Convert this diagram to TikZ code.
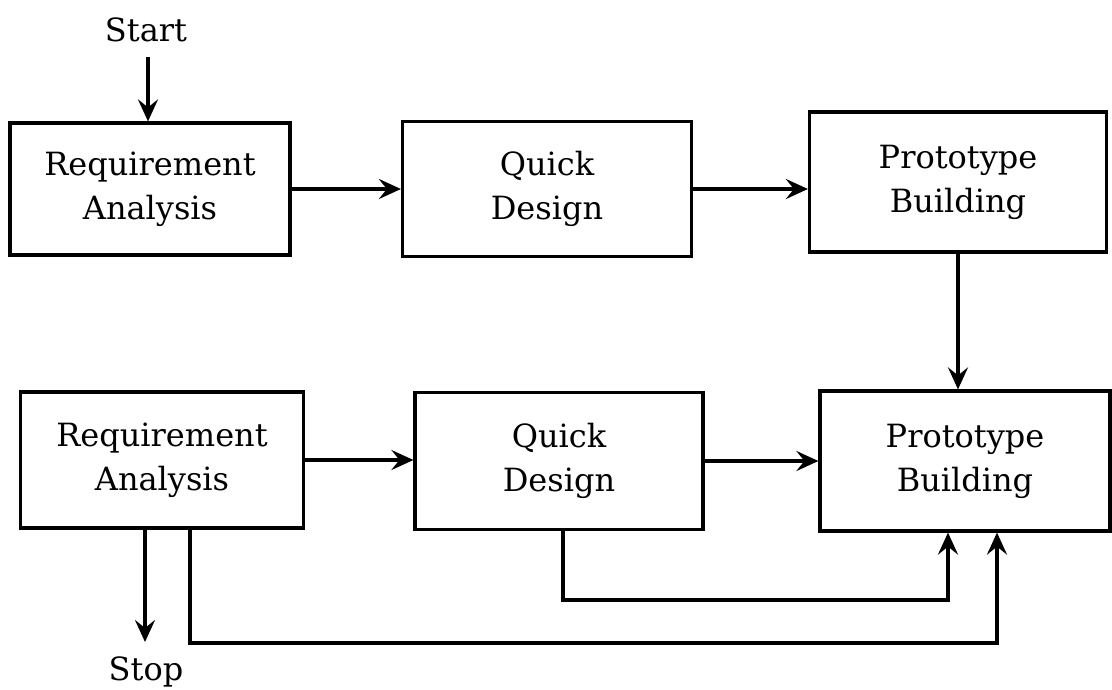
\documentclass[tikz,border=0pt]{standalone}
\usepackage{fontspec}
\setmainfont{DejaVu Serif}
\usetikzlibrary{arrows.meta}
\tikzset{
  box/.style={draw, line width=3.2pt, align=center, inner sep=0pt,
    font=\fontsize{32}{44}\selectfont},
  lbl/.style={inner sep=0pt, font=\fontsize{32}{44}\selectfont},
  conn/.style={line width=3.2pt, -{Stealth[length=22pt,width=20pt,inset=8pt]}}
}
\begin{document}
\begin{tikzpicture}[x=1pt,y=-1pt]
\useasboundingbox (0,0) rectangle (1112,689);
\node[lbl] (start) at (146,30) {Start};
\node[box, minimum width=280pt, minimum height=132pt] (b1) at (150,189) {Requirement\\Analysis};
\node[box, minimum width=289pt, minimum height=135pt] (b2) at (547,189) {Quick\\Design};
\node[box, minimum width=297pt, minimum height=140pt] (b3) at (958,182) {Prototype\\Building};
\node[box, minimum width=283pt, minimum height=136pt] (b4) at (162,460) {Requirement\\Analysis};
\node[box, minimum width=288pt, minimum height=137pt] (b5) at (559,461) {Quick\\Design};
\node[box, minimum width=290pt, minimum height=140pt] (b6) at (965,461) {Prototype\\Building};
\node[lbl] (stop) at (146,672) {Stop};

\coordinate (s0) at (148,57);
\coordinate (q1) at (145,642);
\coordinate (f1) at (563,600);
\coordinate (f1e) at (948,600);
\coordinate (f2) at (190,643);
\coordinate (f2e) at (997,643);

\draw[conn] (s0) -- (s0 |- b1.north);
\draw[conn] (b1.east) -- (b1.east -| b2.west);
\draw[conn] (b2.east) -- (b2.east -| b3.west);
\draw[conn] (b3.south) -- (b3.south |- b6.north);
\draw[conn] (b4.east) -- (b4.east -| b5.west);
\draw[conn] (b5.east) -- (b5.east -| b6.west);
\draw[conn] (q1 |- b4.south) -- (q1);
\draw[conn] (f1 |- b5.south) -- (f1) -- (f1e) -- (f1e |- b6.south);
\draw[conn] (f2 |- b4.south) -- (f2) -- (f2e) -- (f2e |- b6.south);
\end{tikzpicture}
\end{document}
